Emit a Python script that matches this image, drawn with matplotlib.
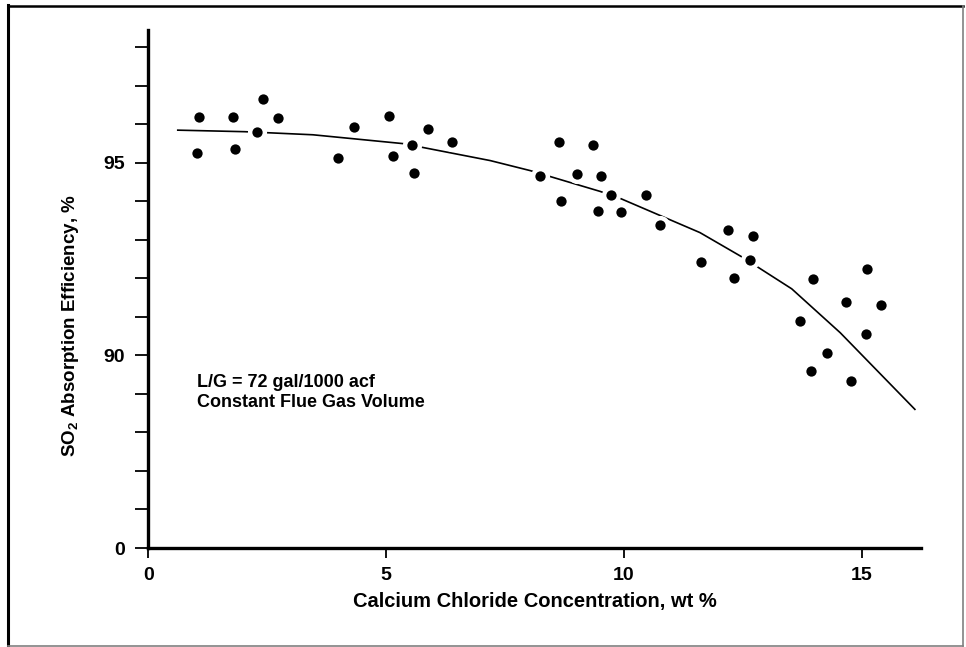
import numpy as np
import matplotlib.pyplot as plt
from matplotlib.lines import Line2D

plt.rcParams['font.family'] = ['Liberation Sans', 'DejaVu Sans']
plt.rcParams['font.weight'] = 'bold'
plt.rcParams['mathtext.fontset'] = 'custom'
plt.rcParams['mathtext.rm'] = 'Liberation Sans:bold'
plt.rcParams['mathtext.it'] = 'Liberation Sans:bold'
plt.rcParams['mathtext.bf'] = 'Liberation Sans:bold'

# measured points (CaCl2 wt %, SO2 efficiency %)
conc = [1.07, 1.02, 1.78, 1.82, 2.41, 2.28, 2.73, 3.98, 4.32, 5.06,
        5.14, 5.55, 5.59, 5.89, 6.39, 8.23, 8.64, 8.67, 9.02, 9.35,
        9.51, 9.74, 9.45, 9.93, 10.47, 10.76, 11.63, 12.19, 12.32, 12.71,
        12.66, 13.98, 13.71, 13.94, 14.27, 14.67, 14.77, 15.12, 15.09, 15.40]
eff = [96.20, 95.26, 96.18, 95.35, 96.66, 95.80, 96.16, 95.12, 95.92, 96.23,
       95.17, 95.46, 94.74, 95.89, 95.53, 94.67, 95.55, 94.02, 94.72, 95.46,
       94.67, 94.17, 93.76, 93.72, 94.17, 93.39, 92.43, 93.26, 92.00, 93.10,
       92.48, 91.98, 90.90, 89.60, 90.07, 91.40, 89.33, 92.25, 90.55, 91.30]

# fitted curve
fit_x = [0.62, 2.03, 3.46, 5.36, 7.19, 8.03, 9.50, 9.92, 11.60, 12.48, 13.53, 14.55, 16.12]
fit_y = [95.85, 95.81, 95.73, 95.50, 95.06, 94.80, 94.26, 94.08, 93.19, 92.56, 91.73, 90.59, 88.60]

y_ticks = list(range(85, 99))
y_labels = {85: '0', 90: '90', 95: '95'}
x_ticks = [0, 5, 10, 15]

fig = plt.figure(figsize=(9.66, 6.47), dpi=100)
ax = fig.add_axes([0.1535, 0.153, 0.800, 0.8006])

ax.plot(fit_x, fit_y, color='black', lw=1.2, zorder=2)
ax.scatter(conc, eff, s=190, color='white', zorder=3, linewidths=0)
ax.scatter(conc, eff, s=55, color='black', zorder=4, linewidths=0)

ax.text(1.02, 89.52, 'L/G = 72 gal/1000 acf\nConstant Flue Gas Volume',
        fontsize=13, fontweight='bold', va='top', ha='left', linespacing=1.2)

ax.set_xlim(0, 16.25)
ax.set_ylim(85, 98.45)
ax.set_xticks(x_ticks)
ax.set_xticklabels([str(v) for v in x_ticks])
ax.set_yticks(y_ticks)
ax.set_yticklabels([y_labels.get(v, '') for v in y_ticks])

for s in ['top', 'right']:
    ax.spines[s].set_visible(False)
for s in ['left', 'bottom']:
    ax.spines[s].set_linewidth(2.4)

ax.tick_params(axis='y', direction='out', length=9.5, width=1.3, pad=7, labelsize=14)
ax.tick_params(axis='x', direction='out', length=7.5, width=1.3, pad=6, labelsize=14)

ax.set_xlabel('Calcium Chloride Concentration, wt %', fontsize=14.5, fontweight='bold', labelpad=6)
ax.set_ylabel('SO$_2$ Absorption Efficiency, %', fontsize=13.5, fontweight='bold')
ax.yaxis.set_label_coords(-0.087, 0.43)

# frame around the figure
W, H = 966, 647
fig.add_artist(Line2D([7.5 / W, 7.5 / W], [1 - 5 / H, 1 - 645.5 / H], color='black', lw=2.2,
                      transform=fig.transFigure))
fig.add_artist(Line2D([7.5 / W, 963 / W], [1 - 5.5 / H, 1 - 5.5 / H], color='black', lw=1.8,
                      transform=fig.transFigure))
fig.add_artist(Line2D([7.5 / W, 963 / W], [1 - 645.5 / H, 1 - 645.5 / H], color='gray', lw=1.2,
                      transform=fig.transFigure))
fig.add_artist(Line2D([963 / W, 963 / W], [1 - 5.5 / H, 1 - 645.5 / H], color='gray', lw=1.2,
                      transform=fig.transFigure))

fig.savefig('out.png', dpi=100)
